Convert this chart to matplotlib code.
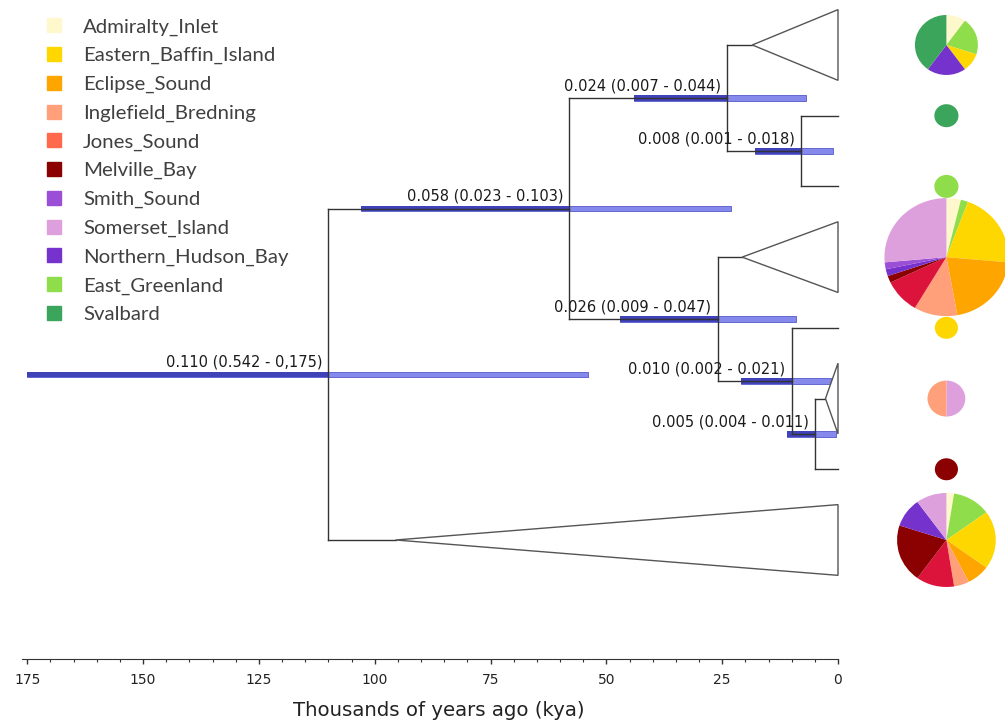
import numpy as np
import matplotlib.pyplot as plt
from matplotlib.lines import Line2D
from matplotlib.patches import Polygon

# populations in legend order
populations = ['Admiralty_Inlet', 'Eastern_Baffin_Island', 'Eclipse_Sound', 'Inglefield_Bredning',
               'Jones_Sound', 'Melville_Bay', 'Smith_Sound', 'Somerset_Island',
               'Northern_Hudson_Bay', 'East_Greenland', 'Svalbard']
legend_colors = ['#fff8cc', '#ffd700', '#ffa500', '#ffa07a', '#ff6a4d', '#8b0000',
                 '#9b4fd6', '#dda0dd', '#7632cc', '#8fdd4a', '#3ca55c']
pie_colors = dict(zip(populations, legend_colors))
pie_colors['Jones_Sound'] = '#dc143c'  # drawn crimson in the pies

# internal nodes: age and 95% HPD in kya, label as printed
node_names = ['root', 'A', 'B', 'C', 'D', 'E', 'F']
node_ages = [110, 58, 24, 8, 26, 10, 5]
hpd_low = [54, 23, 7, 1, 9, 1.5, 0.4]
hpd_high = [175, 103, 44, 18, 47, 21, 11]
node_labels = ['0.110 (0.542 - 0,175)', '0.058 (0.023 - 0.103)', '0.024 (0.007 - 0.044)',
               '0.008 (0.001 - 0.018)', '0.026 (0.009 - 0.047)', '0.010 (0.002 - 0.021)',
               '0.005 (0.004 - 0.011)']

# topology, t0..t7 are the terminal rows from top to bottom
children = {'root': ['A', 't7'], 'A': ['B', 'D'], 'B': ['t0', 'C'], 'C': ['t1', 't2'],
            'D': ['t3', 'E'], 'E': ['t4', 'F'], 'F': ['t5', 't6']}
# collapsed clades: terminal row -> crown age (kya)
collapsed = {'t0': 18.5, 't3': 20.7, 't5': 2.7, 't7': 95.5}

# haplotype pies, one per terminal row
pie_pops = [
    ['Admiralty_Inlet', 'East_Greenland', 'Eastern_Baffin_Island', 'Northern_Hudson_Bay', 'Svalbard'],
    ['Svalbard'],
    ['East_Greenland'],
    ['Admiralty_Inlet', 'East_Greenland', 'Eastern_Baffin_Island', 'Eclipse_Sound', 'Inglefield_Bredning',
     'Jones_Sound', 'Melville_Bay', 'Northern_Hudson_Bay', 'Smith_Sound', 'Somerset_Island'],
    ['Eastern_Baffin_Island'],
    ['Somerset_Island', 'Inglefield_Bredning'],
    ['Melville_Bay'],
    ['Admiralty_Inlet', 'East_Greenland', 'Eastern_Baffin_Island', 'Eclipse_Sound', 'Inglefield_Bredning',
     'Jones_Sound', 'Melville_Bay', 'Northern_Hudson_Bay', 'Somerset_Island'],
]
pie_counts = [
    [1, 2, 1, 2, 4],
    [1],
    [1],
    [2, 1, 11, 11, 6, 5, 1, 1, 1, 14],
    [1],
    [1, 1],
    [1],
    [1, 5, 8, 3, 2, 5, 8, 4, 4],
]
pie_radius = [30, 11.5, 11.5, 59, 11, 18, 11, 47]  # px

W, H = 1005, 723
fig = plt.figure(figsize=(W / 100, H / 100), dpi=100)
ax = fig.add_axes([21.7 / W, (H - 659) / H, (838 - 21.7) / W, 659 / H])
ax.set_xlim(176.2, 0)
ax.set_ylim(8.683, -0.636)

age = dict(zip(node_names, node_ages))


def ypos(n):
    if n.startswith('t'):
        return int(n[1:])
    return np.mean([ypos(c) for c in children[n]])


def xend(n):
    if n.startswith('t'):
        return collapsed.get(n, 0)
    return age[n]


line_kw = dict(color='#333333', lw=1, clip_on=False, zorder=3)

# HPD bars (part older than the node darker, where the branch runs through)
for n, lo, hi in zip(node_names, hpd_low, hpd_high):
    y = ypos(n)
    ax.barh(y, hi - lo, left=lo, height=0.075, color='#8589ec', edgecolor='#5558c8',
            lw=0.6, zorder=2, clip_on=False)
    ax.barh(y, hi - age[n], left=age[n], height=0.075, color='#3f42b8', lw=0,
            zorder=2, clip_on=False)

# branches
for n, kids in children.items():
    x = age[n]
    ys = [ypos(c) for c in kids]
    ax.plot([x, x], [min(ys), max(ys)], **line_kw)
    for c, yc in zip(kids, ys):
        ax.plot([x, xend(c)], [yc, yc], **line_kw)

# collapsed clades
for t, crown in collapsed.items():
    y = ypos(t)
    ax.add_patch(Polygon([(crown, y), (0, y - 0.5), (0, y + 0.5)], closed=True,
                         facecolor='white', edgecolor='#555555', lw=1, clip_on=False, zorder=3))

# node labels
for n, lab in zip(node_names, node_labels):
    ax.annotate(lab, xy=(age[n], ypos(n)), xytext=(-4.5, 3.5), textcoords='offset points',
                ha='right', va='bottom', fontsize=10.5, color='#1a1a1a', zorder=5)

# axis
for s in ['left', 'right', 'top']:
    ax.spines[s].set_visible(False)
ax.spines['bottom'].set_color('#333333')
ax.set_yticks([])
ax.set_xticks(np.arange(0, 176, 25))
ax.set_xticks(np.arange(0, 176, 5), minor=True)
ax.tick_params(axis='x', which='major', length=3.6, width=1, color='#333333',
               labelsize=10, labelcolor='#222222', pad=6.5)
ax.tick_params(axis='x', which='minor', length=1.8, width=0.8, color='#333333')
ax.set_xlabel('Thousands of years ago (kya)', fontsize=14.2, color='#222222')
ax.xaxis.set_label_coords(0.511, -0.064)

# pies next to the tips
fig.canvas.draw()
pie_x = -23.4
for i, (pops, cnts) in enumerate(zip(pie_pops, pie_counts)):
    cx, cy = ax.transData.transform((pie_x, i))
    r = pie_radius[i]
    rx = r * 1.05
    pax = fig.add_axes([(cx - rx) / W, (cy - r) / H, 2 * rx / W, 2 * r / H])
    pax.pie(cnts, colors=[pie_colors[p] for p in pops], startangle=90, counterclock=False,
            wedgeprops=dict(linewidth=0))
    pax.set_aspect('auto')
    pax.set_xlim(-1, 1)
    pax.set_ylim(-1, 1)
    pax.axis('off')

# legend
handles = [Line2D([], [], ls='none', marker='s', ms=9.6, mfc=c, mec=c) for c in legend_colors]
fig.legend(handles, populations, loc='upper left', bbox_to_anchor=(43.3 / W, 1 - 18 / H),
           frameon=False, prop=dict(family='Lato', size=14.7), labelcolor='#404040',
           handlelength=1.0, handletextpad=0.95, labelspacing=0.55, borderpad=0, borderaxespad=0)

fig.savefig('out.png', dpi=100)
